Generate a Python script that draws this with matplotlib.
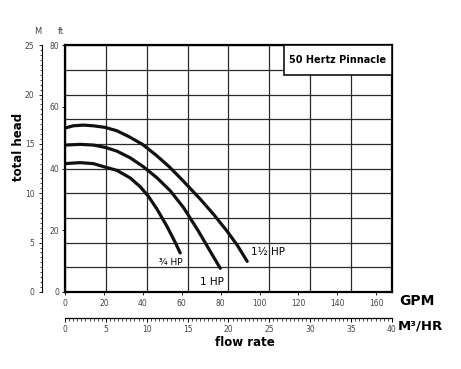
import matplotlib.pyplot as plt
from matplotlib.patches import Rectangle

# flow in M3/HR, head in M
flow_15hp = [0, 1.0, 2.25, 3.47, 4.9, 6.34, 7.85, 9.48, 11.13, 12.76, 14.4, 16.56, 18.2, 19.84, 21.07, 22.3]
head_15hp = [16.6, 16.83, 16.9, 16.83, 16.67, 16.33, 15.72, 14.95, 13.87, 12.68, 11.3, 9.4, 7.85, 6.15, 4.75, 3.1]
flow_1hp = [0, 1.84, 3.47, 4.9, 6.34, 7.98, 9.6, 11.25, 12.88, 14.5, 16.3, 17.8, 19.0]
head_1hp = [14.88, 14.95, 14.88, 14.65, 14.27, 13.59, 12.68, 11.57, 10.25, 8.55, 6.2, 4.08, 2.4]
flow_34hp = [0, 1.84, 3.47, 4.9, 6.34, 7.98, 9.2, 10.2, 11.25, 12.48, 13.5, 14.1]
head_34hp = [13.0, 13.1, 13.0, 12.65, 12.32, 11.55, 10.66, 9.7, 8.4, 6.65, 5.0, 3.95]

gpm_ticks = [0, 20, 40, 60, 80, 100, 120, 140, 160]
m3_ticks = [0, 5, 10, 15, 20, 25, 30, 35, 40]
ft_ticks = [0, 20, 40, 60, 80]
m_ticks = [0, 5, 10, 15, 20, 25]

GPM_PER_M3 = 4.2
FT_PER_M = 3.2

fig = plt.figure(figsize=(4.61, 3.69), dpi=100)
ax = fig.add_axes([0.141, 0.2087, 0.709, 0.669])
ax.set_xlim(0, 40)
ax.set_ylim(0, 25)
ax.set_xticks([x for x in range(0, 41, 5)])
ax.set_yticks([y * 2.5 for y in range(11)])
ax.tick_params(labelbottom=False, labelleft=False, length=0)
ax.grid(True, color='#2a2a2a', lw=0.9)
for s in ax.spines.values():
    s.set_linewidth(1.6)

for fx, hy in [(flow_15hp, head_15hp), (flow_1hp, head_1hp), (flow_34hp, head_34hp)]:
    ax.plot(fx, hy, color='#111111', lw=2.3, solid_capstyle='round', solid_joinstyle='round')

ax.text(12.9, 3.0, '¾ HP', fontsize=6.5, ha='center', va='center')
ax.text(18.0, 1.0, '1 HP', fontsize=7.5, ha='center', va='center')
ax.text(24.8, 4.1, '1½ HP', fontsize=7.5, ha='center', va='center')

ax.add_patch(Rectangle((26.75, 21.96), 13.25, 3.04, facecolor='white',
                       edgecolor='#111111', lw=1.2, zorder=3))
ax.text(33.4, 23.5, '50 Hertz Pinnacle', fontsize=7, fontweight='bold',
        ha='center', va='center', zorder=4)

# ft axis next to the plot
ft_ax = ax.secondary_yaxis(0, functions=(lambda m: m * FT_PER_M, lambda f: f / FT_PER_M))
ft_ax.set_yticks(ft_ticks)
ft_ax.tick_params(length=2, width=0.6, pad=2, labelsize=5.5, labelcolor='#444444')
ft_ax.spines['left'].set_visible(False)

# M axis further out, with ruler ticks
m_ax = ax.secondary_yaxis(-0.07)
m_ax.set_yticks(m_ticks)
m_ax.set_yticks([y * 0.5 for y in range(51)], minor=True)
m_ax.tick_params(length=2.5, width=0.6, pad=3, labelsize=5.5, labelcolor='#444444')
m_ax.tick_params(which='minor', length=1.5, width=0.5)
m_ax.spines['left'].set_linewidth(0.8)

# GPM labels under the plot
gpm_ax = ax.secondary_xaxis(0, functions=(lambda m: m * GPM_PER_M3, lambda g: g / GPM_PER_M3))
gpm_ax.set_xticks(gpm_ticks)
gpm_ax.tick_params(length=2, width=0.6, pad=3, labelsize=5.5, labelcolor='#444444')
gpm_ax.spines['bottom'].set_visible(False)

# M3/HR ruler
m3_ax = ax.secondary_xaxis(-0.105)
m3_ax.set_xticks(m3_ticks)
m3_ax.set_xticks([x * 0.5 for x in range(81)], minor=True)
m3_ax.tick_params(length=3, width=0.7, pad=2, labelsize=5.5, labelcolor='#444444')
m3_ax.tick_params(which='minor', length=2, width=0.5)
m3_ax.spines['bottom'].set_linewidth(0.9)

fig.text(399 / 461, 1 - 301 / 369, 'GPM', fontsize=10, fontweight='bold', ha='left', va='center')
fig.text(398 / 461, 1 - 326 / 369, 'M³/HR', fontsize=9.5, fontweight='bold', ha='left', va='center')
fig.text(245 / 461, 1 - 342 / 369, 'flow rate', fontsize=8.5, fontweight='bold', ha='center', va='center')
fig.text(18 / 461, 1 - 147 / 369, 'total head', fontsize=8.5, fontweight='bold', rotation=90,
         ha='center', va='center')
fig.text(38 / 461, 1 - 31 / 369, 'M', fontsize=6, color='#444444', ha='center', va='center')
fig.text(61 / 461, 1 - 31 / 369, 'ft', fontsize=6, color='#444444', ha='center', va='center')

fig.savefig('out.png', dpi=100)
